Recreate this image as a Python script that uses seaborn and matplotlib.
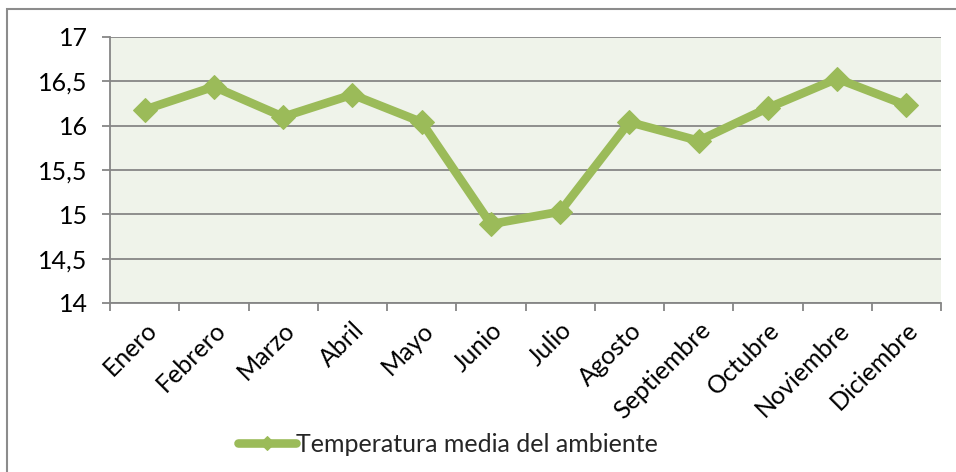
import matplotlib
matplotlib.use("Agg")
import matplotlib.pyplot as plt
import matplotlib.ticker as mticker
from matplotlib.patches import Rectangle
import seaborn as sns
import pandas as pd

meses = ["Enero", "Febrero", "Marzo", "Abril", "Mayo", "Junio", "Julio",
         "Agosto", "Septiembre", "Octubre", "Noviembre", "Diciembre"]
temperatura = [16.18, 16.44, 16.10, 16.35, 16.04, 14.89, 15.03,
               16.04, 15.83, 16.20, 16.53, 16.23]
serie = "Temperatura media del ambiente"
y_ticks = [14, 14.5, 15, 15.5, 16, 16.5, 17]

sns.set_theme(style="white")
plt.rcParams['font.family'] = ['Lato', 'DejaVu Sans']

df = pd.DataFrame({"mes": meses, "temp": temperatura, "idx": range(len(meses))})

fig = plt.figure(figsize=(9.56, 4.72), dpi=100)
fig.patches.append(Rectangle((7/956, -0.1), 1.2, 1 - 9/472 + 0.1, transform=fig.transFigure,
                             fill=False, edgecolor="#8c8c8c", linewidth=1.5, zorder=0))
ax = fig.add_axes([110/956, 1 - 303/472, 831/956, 266/472])
ax.set_facecolor("#eff3ea")

green = "#9bbb59"
sns.lineplot(data=df, x="idx", y="temp", ax=ax, color=green, linewidth=6.2,
             marker="D", markersize=12.5, markeredgecolor=green, label=serie, legend=False)

ax.set_xlim(-0.5, len(meses) - 0.5)
ax.set_ylim(14, 17)
ax.set_yticks(y_ticks)
ax.yaxis.set_major_formatter(mticker.FuncFormatter(lambda v, p: (f"{v:g}").replace(".", ",")))
ax.yaxis.grid(True, color="#868686", linewidth=1.3)
ax.set_axisbelow(True)

ax.set_xticks([i for i in range(len(meses))])
ax.set_xticklabels(meses, rotation=45, ha="right", rotation_mode="anchor")
ax.xaxis.set_minor_locator(mticker.FixedLocator([i - 0.5 for i in range(len(meses) + 1)]))
ax.tick_params(axis="x", which="major", length=0, pad=11, labelsize=18, colors="black")
ax.tick_params(axis="x", which="minor", length=6, width=1.3, color="#868686", direction="out", bottom=True)
ax.tick_params(axis="y", length=6, width=1.3, color="#868686", direction="out", left=True,
               labelsize=18, pad=10, labelcolor="black")
for s in ["top", "right"]:
    ax.spines[s].set_visible(False)
for s in ["left", "bottom"]:
    ax.spines[s].set_color("#868686")
    ax.spines[s].set_linewidth(1.3)
ax.set_xlabel("")
ax.set_ylabel("")

handles, labels = ax.get_legend_handles_labels()
fig.legend(handles, labels, loc="center left", bbox_to_anchor=(238/956, 1 - 444/472), frameon=False,
           fontsize=18, handlelength=2.3, handletextpad=0.0, borderaxespad=0, borderpad=0,
           markerscale=0.6)

fig.savefig("out.png", dpi=100)
